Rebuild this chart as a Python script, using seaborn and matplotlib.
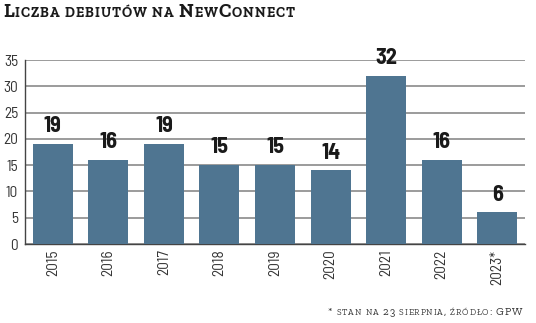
import matplotlib
matplotlib.use("Agg")
import matplotlib.pyplot as plt
import seaborn as sns
import pandas as pd
from matplotlib import font_manager as fm
from matplotlib.ft2font import LOAD_NO_HINTING
from matplotlib.font_manager import FontProperties, findfont, get_font

years = ["2015", "2016", "2017", "2018", "2019", "2020", "2021", "2022", "2023*"]
debuts = [19, 16, 19, 15, 15, 14, 32, 16, 6]
yticks = [0, 5, 10, 15, 20, 25, 30, 35]
title = "Liczba debiutów na NewConnect"
footnote = "* stan na 23 sierpnia, źródło: GPW"

names = {f.name for f in fm.fontManager.ttflist}


def pick(cands):
    for c in cands:
        if c in names:
            return c
    return "DejaVu Sans"


cond = pick(["Barlow Semi Condensed", "Barlow Condensed", "Archivo Narrow", "Liberation Sans"])
serif = pick(["Roboto Slab", "Zilla Slab", "Arvo", "Noto Serif", "Liberation Serif"])

sns.set_theme(style="white")
plt.rcParams["font.family"] = [cond, "DejaVu Sans"]

W, H, DPI = 536, 323, 100
fig = plt.figure(figsize=(W / DPI, H / DPI), dpi=DPI)
ax = fig.add_axes([25 / W, 1 - 244 / H, 500 / W, 184 / H])

df = pd.DataFrame({"year": years, "n": debuts})
sns.barplot(data=df, x="year", y="n", color="#4f7591", saturation=1, width=0.72,
            ax=ax, zorder=3, edgecolor="none", linewidth=0)

ax.set_ylim(0, 35)
ax.set_xlim(-0.5, len(years) - 0.5)
ax.set_yticks(yticks)
ax.set_yticklabels([str(v) for v in yticks], fontsize=11, color="#333333")
ax.set_xticks(range(len(years)))
ax.set_xticklabels(years, rotation=90, fontsize=11, color="#333333")
ax.tick_params(axis="both", length=0)
ax.tick_params(axis="y", pad=5)
ax.tick_params(axis="x", pad=4)
ax.set_xlabel("")
ax.set_ylabel("")
ax.yaxis.grid(True, color="#808080", linewidth=1.1, zorder=0)
ax.set_axisbelow(True)
for s in ["top", "right"]:
    ax.spines[s].set_visible(False)
for s in ["left", "bottom"]:
    ax.spines[s].set_color("#444444")
    ax.spines[s].set_linewidth(1.0)

for i, v in enumerate(debuts):
    ax.annotate(str(v), (i, v), xytext=(0, 8.5), textcoords="offset points",
                ha="center", va="baseline", fontsize=16, fontweight="bold",
                color="#1a1a1a", family=[cond, "DejaVu Sans"])


def advance(ch, size, weight):
    prop = FontProperties(family=serif, weight=weight, size=size)
    font = get_font(findfont(prop))
    font.set_size(size, DPI)
    g = font.load_char(ord(ch), flags=LOAD_NO_HINTING)
    return g.linearHoriAdvance / 65536.0


def small_caps(x_px, base_px, text, big, small, ha="left", color="#1a1a1a",
               weight="normal", track=0.0):
    pieces = []
    total = 0.0
    for ch in text:
        size = small if (ch.isalpha() and ch.islower()) else big
        c = ch.upper()
        w = advance(c, size, weight) + track
        pieces.append((c, size, w))
        total += w
    total -= track
    x = x_px if ha == "left" else x_px - total
    for c, size, w in pieces:
        if c != " ":
            fig.text(x / W, 1 - base_px / H, c, fontsize=size, family=[serif, "DejaVu Serif"],
                     fontweight=weight, color=color, va="baseline", ha="left")
        x += w
    return total


small_caps(3, 17, title, 14, 10.2, weight="bold", track=0.9)
small_caps(522, 315, footnote, 8, 6.2, ha="right", color="#333333", track=0.9)

fig.savefig("out.png", dpi=DPI)
